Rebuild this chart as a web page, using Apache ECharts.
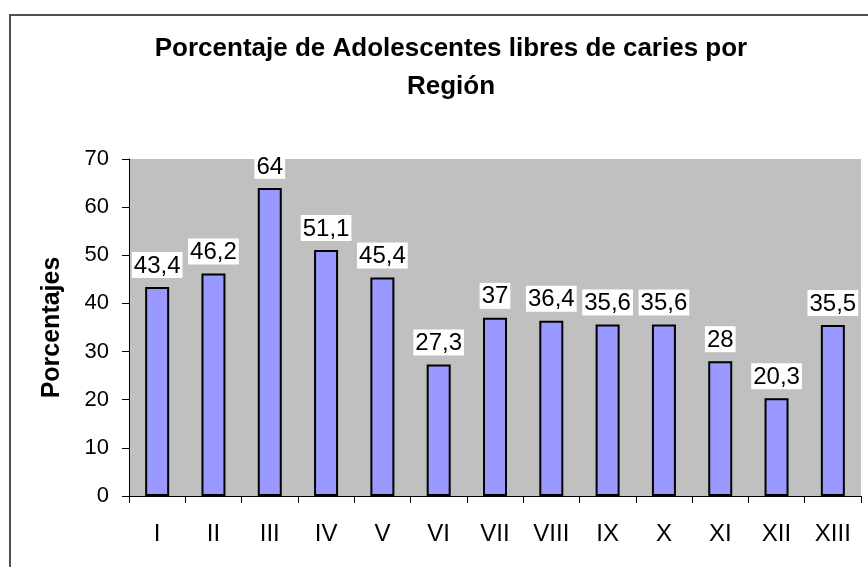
<!DOCTYPE html>
<html>
<head>
<meta charset="utf-8">
<script src="https://cdn.jsdelivr.net/npm/echarts@6/dist/echarts.min.js"></script>
<style>
  html, body { margin: 0; padding: 0; background: #fff; }
  #chart { width: 868px; height: 567px; }
</style>
</head>
<body>
<div id="chart"></div>
<script>
var regiones = ['I', 'II', 'III', 'IV', 'V', 'VI', 'VII', 'VIII', 'IX', 'X', 'XI', 'XII', 'XIII'];
var porcentajes = [43.4, 46.2, 64, 51.1, 45.4, 27.3, 37, 36.4, 35.6, 35.6, 28, 20.3, 35.5];

var chart = echarts.init(document.getElementById('chart'));

var option = {
  animation: false,
  textStyle: { fontFamily: 'Liberation Sans, Arial, sans-serif' },
  title: {
    text: 'Porcentaje de Adolescentes libres de caries por\nRegión',
    left: 446,
    top: 25,
    textAlign: 'center',
    textStyle: {
      fontSize: 26,
      fontWeight: 'bold',
      color: '#000',
      lineHeight: 38,
      fontFamily: 'Liberation Sans, Arial, sans-serif'
    }
  },
  graphic: [{
    type: 'rect',
    shape: { x: 10, y: 15, width: 900, height: 600 },
    style: { fill: 'none', stroke: '#505050', lineWidth: 2 },
    silent: true
  }],
  grid: {
    left: 129,
    top: 159,
    right: 7,
    bottom: 71,
    show: true,
    backgroundColor: '#C0C0C0',
    borderWidth: 0
  },
  xAxis: {
    type: 'category',
    data: regiones,
    axisLine: { lineStyle: { color: '#000', width: 1 } },
    axisTick: { show: true, length: 7, lineStyle: { color: '#000' } },
    axisLabel: { fontSize: 24, color: '#000', margin: 26 }
  },
  yAxis: {
    type: 'value',
    min: 0,
    max: 70,
    interval: 10,
    name: 'Porcentajes',
    nameLocation: 'middle',
    nameGap: 64,
    nameTextStyle: { fontSize: 25, fontWeight: 'bold', color: '#000' },
    axisLine: { show: true, lineStyle: { color: '#000', width: 1 } },
    axisTick: { show: true, length: 7, lineStyle: { color: '#000' } },
    axisLabel: { fontSize: 22, color: '#000', margin: 20 },
    splitLine: { show: false }
  },
  series: [{
    type: 'bar',
    data: porcentajes,
    barWidth: 24,
    itemStyle: { color: '#9999FF', borderColor: '#000', borderWidth: 2 },
    label: {
      show: true,
      position: 'top',
      distance: 9,
      fontSize: 24,
      color: '#000',
      backgroundColor: '#fff',
      padding: [2, 2, 0, 2],
      formatter: function (p) {
        return String(p.value).replace('.', ',');
      }
    }
  }]
};

chart.setOption(option);
</script>
</body>
</html>
